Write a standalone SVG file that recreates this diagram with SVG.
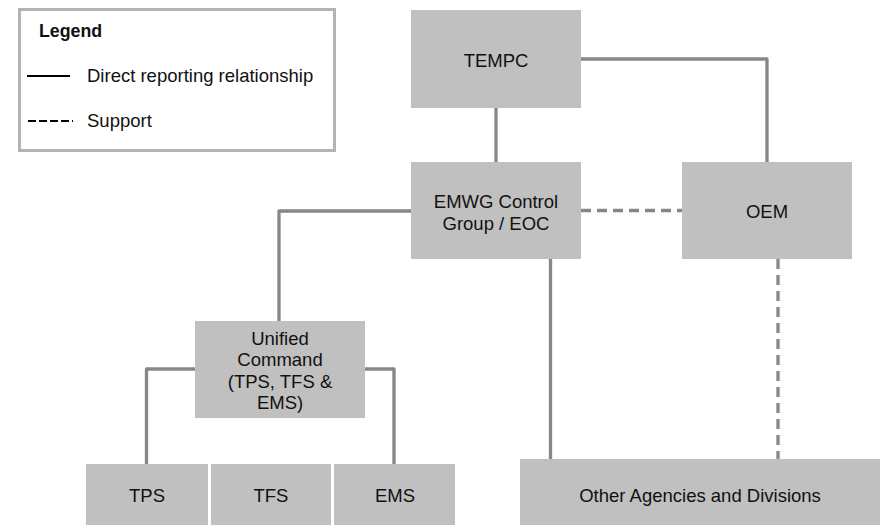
<svg xmlns="http://www.w3.org/2000/svg" width="882" height="525" viewBox="0 0 882 525">
<style>
text{font-family:"Liberation Sans",Arial,sans-serif;font-size:18.5px;fill:#111;}
.c{text-anchor:middle;}
.box{fill:#c0c0c0;}
.ln{fill:none;stroke:#878787;stroke-width:3.3;stroke-linejoin:round;}
.dash{stroke-dasharray:10 6;}
</style>
<rect width="882" height="525" fill="#fff"/>
<g id="legend">
<rect x="19.5" y="9.5" width="315" height="141" fill="#fff" stroke="#b3b3b3" stroke-width="3"/>
<text x="39" y="37" style="font-weight:bold;font-size:17.8px">Legend</text>
<line x1="27" y1="76" x2="70" y2="76" stroke="#000" stroke-width="2"/>
<text x="87" y="82">Direct reporting relationship</text>
<line x1="28" y1="121" x2="73" y2="121" stroke="#000" stroke-width="2" stroke-dasharray="8 3"/>
<text x="87" y="127">Support</text>
</g>
<g id="connectors">
<path class="ln" d="M496 108V162"/>
<path class="ln" d="M581 59H767V162"/>
<path class="ln dash" d="M581 210.5H682"/>
<path class="ln" d="M411 211H279V321"/>
<path class="ln" d="M550.5 259V459"/>
<path class="ln dash" d="M778 259V459"/>
<path class="ln" d="M195 369H146.5V464"/>
<path class="ln" d="M365 369H394V464"/>
</g>
<g id="tempc"><rect class="box" x="411" y="10" width="170" height="98"/><text class="c" x="496" y="67">TEMPC</text></g>
<g id="emwg"><rect class="box" x="411" y="162" width="170" height="97"/><text class="c" x="496" y="207.5">EMWG Control</text><text class="c" x="496" y="229.5">Group / EOC</text></g>
<g id="oem"><rect class="box" x="682" y="162" width="170" height="97"/><text class="c" x="767" y="218">OEM</text></g>
<g id="unified"><rect class="box" x="195" y="321" width="170" height="97"/><text class="c" x="280" y="344.5">Unified</text><text class="c" x="280" y="366">Command</text><text class="c" x="280" y="387.5">(TPS, TFS &amp;</text><text class="c" x="280" y="409">EMS)</text></g>
<g id="tps"><rect class="box" x="86" y="464" width="122" height="61"/><text class="c" x="147" y="502">TPS</text></g>
<g id="tfs"><rect class="box" x="211" y="464" width="120" height="61"/><text class="c" x="271" y="502">TFS</text></g>
<g id="ems"><rect class="box" x="334" y="464" width="121" height="61"/><text class="c" x="395" y="502">EMS</text></g>
<g id="other"><rect class="box" x="520" y="459" width="360" height="66"/><text class="c" x="700" y="502">Other Agencies and Divisions</text></g>
</svg>
